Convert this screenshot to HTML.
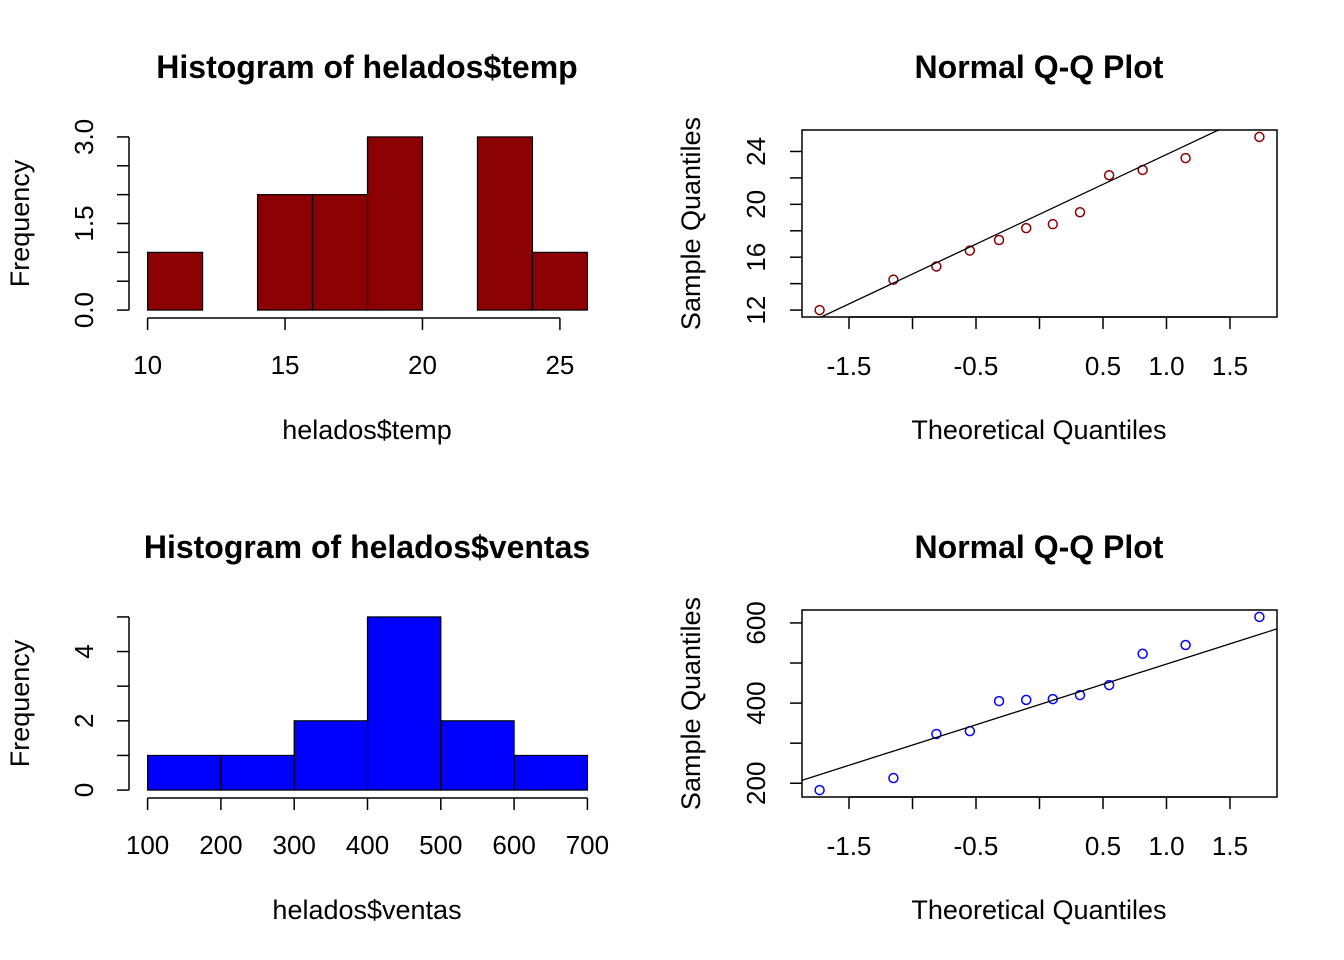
<!DOCTYPE html>
<html><head><meta charset="utf-8"><style>
html,body{margin:0;padding:0;background:#fff;}
svg{display:block;font-family:"Liberation Sans",Arial,sans-serif;}
</style></head><body>
<svg id="c" width="1344" height="960" viewBox="0 0 1344 960"></svg>
<script>
const tempBreaks=[10,12,14,16,18,20,22,24,26];
const tempCounts=[1,0,2,2,3,0,3,1];
const ventasBreaks=[100,200,300,400,500,600,700];
const ventasCounts=[1,1,2,5,2,1];
const tempSample=[12,14.3,15.3,16.5,17.3,18.2,18.5,19.4,22.2,22.6,23.5,25.1];
const ventasSample=[183,213,323,330,405,408,410,420,445,523,545,615];
const tempYTicks=[0,0.5,1,1.5,2,2.5,3];
const tempYLabels=["0.0","","","1.5","","","3.0"];
const tempXTicks=[10,15,20,25];
const ventasYTicks=[0,1,2,3,4,5];
const ventasYLabels=["0","","2","","4",""];
const ventasXTicks=[100,200,300,400,500,600,700];
const qqXTicks=[-1.5,-1,-0.5,0,0.5,1,1.5];
const qqXLabels=["-1.5","","-0.5","","0.5","1.0","1.5"];
const tempQQYTicks=[12,14,16,18,20,22,24];
const tempQQYLabels=["12","","16","","20","","24"];
const ventasQQYTicks=[200,300,400,500,600];
const ventasQQYLabels=["200","","400","","600"];

const TS=32, LS=26, AS=27;
const svg=document.getElementById('c');
const NS='http://www.w3.org/2000/svg';
function el(tag,attrs,parent){const e=document.createElementNS(NS,tag);for(const k in attrs)e.setAttribute(k,attrs[k]);(parent||svg).appendChild(e);return e;}
function txt(s,x,y,size,opts,parent){const t=el('text',Object.assign({x:x,y:y,'font-size':size,'text-anchor':'middle',fill:'#000'},opts||{}),parent);t.textContent=s;return t;}
function scale(d0,d1,p0,p1){const r=d1-d0;const a=d0-0.04*r,b=d1+0.04*r;return v=>p0+(v-a)/(b-a)*(p1-p0);}
function qnorm(p){
const a=[-3.969683028665376e+01,2.209460984245205e+02,-2.759285104469687e+02,1.383577518672690e+02,-3.066479806614716e+01,2.506628277459239e+00];
const b=[-5.447609879822406e+01,1.615858368580409e+02,-1.556989798598866e+02,6.680131188771972e+01,-1.328068155288572e+01];
const c=[-7.784894002430293e-03,-3.223964580411365e-01,-2.400758277161838e+00,-2.549732539343734e+00,4.374664141464968e+00,2.938163982698783e+00];
const d=[7.784695709041462e-03,3.224671290700398e-01,2.445134137142996e+00,3.754408661907416e+00];
let q,r;if(p<0.02425){q=Math.sqrt(-2*Math.log(p));return (((((c[0]*q+c[1])*q+c[2])*q+c[3])*q+c[4])*q+c[5])/((((d[0]*q+d[1])*q+d[2])*q+d[3])*q+1);}
if(p>1-0.02425){q=Math.sqrt(-2*Math.log(1-p));return -(((((c[0]*q+c[1])*q+c[2])*q+c[3])*q+c[4])*q+c[5])/((((d[0]*q+d[1])*q+d[2])*q+d[3])*q+1);}
q=p-0.5;r=q*q;return (((((a[0]*r+a[1])*r+a[2])*r+a[3])*r+a[4])*r+a[5])*q/(((((b[0]*r+b[1])*r+b[2])*r+b[3])*r+b[4])*r+1);}
function quant(arr,p){const s=arr.slice().sort((x,y)=>x-y);const h=(s.length-1)*p;const lo=Math.floor(h);return s[lo]+(h-lo)*((s[lo+1]??s[lo])-s[lo]);}

function hist(name,title,xlab,breaks,counts,fill,xTicks,yTicks,yLabels,top){
  const g=el('g',{});
  const L=130,R=605,T=top,B=top+187;
  const sx=scale(breaks[0],breaks[breaks.length-1],L,R);
  const sy=scale(0,Math.max(...counts),B,T);
  const tt=txt(title,367,T-52,TS,{'font-weight':'bold'},g);
  counts.forEach((c,i)=>{const r=el('rect',{x:sx(breaks[i]),y:sy(c),width:sx(breaks[i+1])-sx(breaks[i]),height:sy(0)-sy(c),fill:fill,stroke:'#000','stroke-width':1.2},g);
    });
  const ax=el('g',{},g);
  el('line',{x1:sx(xTicks[0]),x2:sx(xTicks[xTicks.length-1]),y1:B+1,y2:B+1,stroke:'#000','stroke-width':1.5},ax);
  xTicks.forEach(v=>{el('line',{x1:sx(v),x2:sx(v),y1:B+1,y2:B+13,stroke:'#000','stroke-width':1.5},ax);txt(String(v),sx(v),B+57,LS,{},ax);});
  const ay=el('g',{},g);
  const ax0=L-1;
  el('line',{x1:ax0,x2:ax0,y1:sy(yTicks[0]),y2:sy(yTicks[yTicks.length-1]),stroke:'#000','stroke-width':1.5},ay);
  yTicks.forEach((v,i)=>{el('line',{x1:ax0,x2:ax0-12,y1:sy(v),y2:sy(v),stroke:'#000','stroke-width':1.5},ay);
    if(yLabels[i]){const y=sy(v);txt(yLabels[i],0,0,LS,{transform:`translate(${ax0-36},${y}) rotate(-90)`},ay);}});
  const xl=txt(xlab,367,B+122,AS,{},g);
  const yl=txt('Frequency',0,0,AS,{transform:`translate(29,${(T+B)/2}) rotate(-90)`},g);
}
function qq(name,sample,col,yTicks,yLabels,top){
  const g=el('g',{});
  const L=802,R=1277,T=top,B=top+187;const n=sample.length;
  const s=sample.slice().sort((a,b)=>a-b);
  const th=s.map((_,i)=>qnorm((i+1-0.5)/n));
  const sx=scale(th[0],th[n-1],L,R);const sy=scale(s[0],s[n-1],B,T);
  const tt=txt('Normal Q-Q Plot',1039,T-52,TS,{'font-weight':'bold'},g);
  const cp=el('clipPath',{id:name+'-clip'},g);el('rect',{x:L,y:T,width:R-L,height:B-T},cp);
  s.forEach((v,i)=>{const c=el('circle',{cx:sx(th[i]),cy:sy(v),r:4.5,fill:'none',stroke:col,'stroke-width':1.5},g);});
  const q1=quant(s,0.25),q3=quant(s,0.75),z1=qnorm(0.25),z3=qnorm(0.75);
  const slope=(q3-q1)/(z3-z1),ic=q1-slope*z1;const xa=-3,xb=3;
  const ln=el('line',{x1:sx(xa),y1:sy(ic+slope*xa),x2:sx(xb),y2:sy(ic+slope*xb),stroke:'#000','stroke-width':1.3,'clip-path':`url(#${name}-clip)`},g);
  
  el('rect',{x:L,y:T,width:R-L,height:B-T,fill:'none',stroke:'#000','stroke-width':1.5},g);
  const ax=el('g',{},g);
  el('line',{x1:sx(qqXTicks[0]),x2:sx(qqXTicks[qqXTicks.length-1]),y1:B,y2:B,stroke:'#000','stroke-width':1.5},ax);
  qqXTicks.forEach((v,i)=>{el('line',{x1:sx(v),x2:sx(v),y1:B,y2:B+12,stroke:'#000','stroke-width':1.5},ax);if(qqXLabels[i])txt(qqXLabels[i],sx(v),B+58,LS,{},ax);});
  const ay=el('g',{},g);
  yTicks.forEach((v,i)=>{el('line',{x1:L,x2:L-12,y1:sy(v),y2:sy(v),stroke:'#000','stroke-width':1.5},ay);
    if(yLabels[i])txt(yLabels[i],0,0,LS,{transform:`translate(${L-37},${sy(v)}) rotate(-90)`},ay);});
  const xl=txt('Theoretical Quantiles',1039,B+122,AS,{},g);
  const yl=txt('Sample Quantiles',0,0,AS,{transform:`translate(700,${(T+B)/2}) rotate(-90)`},g);
}
hist('temp-histogram','Histogram of helados$temp','helados$temp',tempBreaks,tempCounts,'#8B0000',tempXTicks,tempYTicks,tempYLabels,130);
qq('temp-qq-plot',tempSample,'#8B0000',tempQQYTicks,tempQQYLabels,130);
hist('ventas-histogram','Histogram of helados$ventas','helados$ventas',ventasBreaks,ventasCounts,'#0000FF',ventasXTicks,ventasYTicks,ventasYLabels,610);
qq('ventas-qq-plot',ventasSample,'#0000FF',ventasQQYTicks,ventasQQYLabels,610);
</script>
</body></html>
